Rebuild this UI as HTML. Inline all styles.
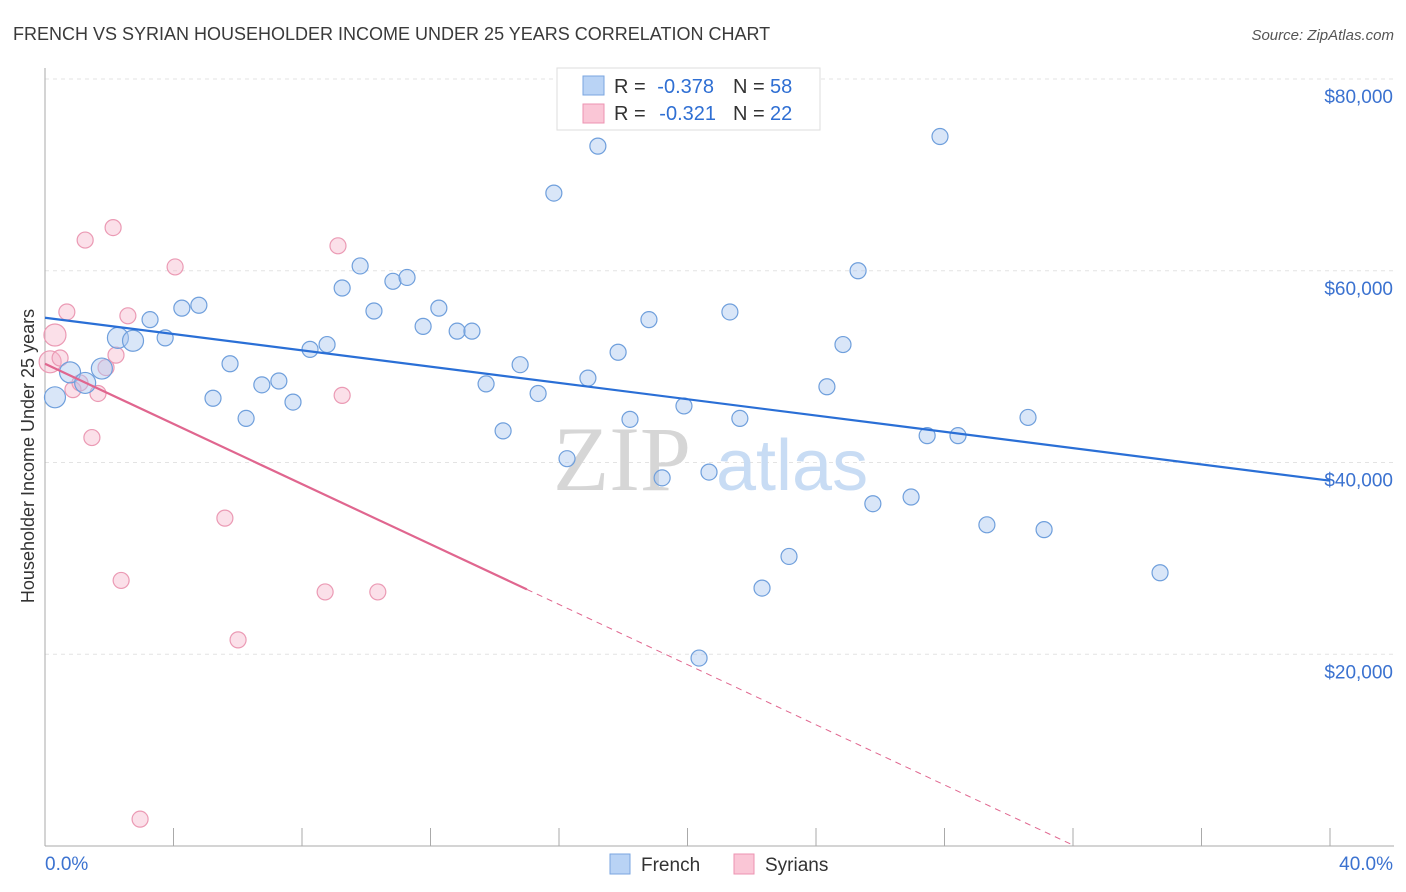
<!DOCTYPE html>
<html><head><meta charset="utf-8"><style>
body{margin:0;background:#fff;font-family:"Liberation Sans",sans-serif;}
svg{display:block}
</style></head><body>
<svg id="chart" width="1406" height="892" xmlns="http://www.w3.org/2000/svg" font-family="Liberation Sans, sans-serif">
<text x="13" y="40" font-size="18" fill="#3a3a3a">FRENCH VS SYRIAN HOUSEHOLDER INCOME UNDER 25 YEARS CORRELATION CHART</text>
<text x="1394" y="40" font-size="15" fill="#555" font-style="italic" text-anchor="end">Source: ZipAtlas.com</text>
<g id="grid"></g>
<g id="axes"></g>
<g><text x="553" y="490" font-size="92" font-family="Liberation Serif, serif" fill="#d6d6d6">ZIP</text><text x="716" y="490" font-size="72" fill="#c8dcf4">atlas</text></g>
<g id="marks"></g>
<text transform="translate(34,456) rotate(-90)" font-size="18" fill="#333" text-anchor="middle">Householder Income Under 25 years</text>
<g>
<rect x="557" y="68" width="263" height="62" fill="#fff" stroke="#ddd"/>
<rect x="583" y="76" width="21" height="19" fill="#b9d3f5" stroke="#7aa6e0"/>
<rect x="583" y="104" width="21" height="19" fill="#fac6d6" stroke="#ec93b1"/>
<text x="614" y="93" font-size="20" fill="#333">R =</text>
<text x="714" y="93" font-size="20" fill="#2f6fd3" text-anchor="end">-0.378</text>
<text x="733" y="93" font-size="20" fill="#333">N =</text>
<text x="770" y="93" font-size="20" fill="#2f6fd3">58</text>
<text x="614" y="120" font-size="20" fill="#333">R =</text>
<text x="716" y="120" font-size="20" fill="#2f6fd3" text-anchor="end">-0.321</text>
<text x="733" y="120" font-size="20" fill="#333">N =</text>
<text x="770" y="120" font-size="20" fill="#2f6fd3">22</text>
</g>
<g>
<rect x="610" y="854" width="20" height="20" fill="#b9d3f5" stroke="#7aa6e0"/>
<text x="641" y="871" font-size="19" fill="#333">French</text>
<rect x="734" y="854" width="20" height="20" fill="#fac6d6" stroke="#ec93b1"/>
<text x="765" y="871" font-size="19" fill="#333">Syrians</text>
</g>
</svg>
<script>
const yTicks=[20,40,60,80];
const yTickLabels=["$20,000","$40,000","$60,000","$80,000"];
const xTickLabels=["0.0%","40.0%"];
const frenchX=[0.31,0.78,1.25,1.77,2.27,2.74,3.27,3.74,4.26,4.79,5.23,5.76,6.26,6.75,7.28,7.72,8.25,8.78,9.25,9.81,10.24,10.83,11.27,11.77,12.26,12.83,13.29,13.73,14.26,14.79,15.35,15.84,16.25,16.90,17.21,17.84,18.21,18.80,19.21,19.89,20.36,20.67,21.32,21.63,22.32,23.16,24.34,24.84,25.31,25.77,26.96,27.46,27.86,28.42,29.32,30.60,31.10,34.71];
const frenchY=[46.8,49.4,48.3,49.8,53.0,52.7,54.9,53.0,56.1,56.4,46.7,50.3,44.6,48.1,48.5,46.3,51.8,52.3,58.2,60.5,55.8,58.9,59.3,54.2,56.1,53.7,53.7,48.2,43.3,50.2,47.2,68.1,40.4,48.8,73.0,51.5,44.5,54.9,38.4,45.9,19.6,39.0,55.7,44.6,26.9,30.2,47.9,52.3,60.0,35.7,36.4,42.8,74.0,42.8,33.5,44.7,33.0,28.5];
const syrX=[0.16,0.31,0.47,0.87,1.09,1.25,1.46,1.65,1.90,2.12,2.21,2.37,2.58,2.96,4.05,5.60,6.01,8.72,9.12,9.25,10.36,0.68];
const syrY=[50.5,53.3,50.9,47.6,48.3,63.2,42.6,47.2,49.9,64.5,51.2,27.7,55.3,2.8,60.4,34.2,21.5,26.5,62.6,47.0,26.5,55.7];
const frenchTrend=[55.1,38.1];
const syrTrend=[50.3,-1.569];

const NS="http://www.w3.org/2000/svg";
const X=p=>45+p*32.125, Y=v=>846-v*9.5875;
function mk(tag,attrs,parent){const e=document.createElementNS(NS,tag);for(const k in attrs)e.setAttribute(k,attrs[k]);parent.appendChild(e);return e;}
const grid=document.getElementById('grid'),axes=document.getElementById('axes'),marks=document.getElementById('marks');
yTicks.forEach((t,i)=>{
 const l=mk('line',{x1:45,x2:1394,y1:Y(t),y2:Y(t),stroke:'#e3e3e3','stroke-dasharray':'4,4'},grid);
 
 
 const tx=mk('text',{x:1393,y:Y(t)+24,'font-size':19,fill:'#3b72d0','text-anchor':'end'},axes);tx.textContent=yTickLabels[i];
 
 
});
const ax=mk('line',{x1:45,x2:1394,y1:846,y2:846,stroke:'#aaa'},axes);


const ay=mk('line',{x1:45,x2:45,y1:68,y2:846,stroke:'#aaa'},axes);


for(let i=0;i<=10;i++){const t=mk('line',{x1:X(i*4),x2:X(i*4),y1:828,y2:846,stroke:'#aaa'},axes);
 
 }
[0,40].forEach((p,i)=>{const t=mk('text',{x:i?1393:45,y:870,'font-size':19,fill:'#3b72d0','text-anchor':i?'end':'start'},axes);t.textContent=xTickLabels[i];
 
 });
syrX.forEach((x,i)=>{const c=mk('circle',{cx:X(x),cy:Y(syrY[i]),r:i<2?11:8,fill:'rgba(246,178,200,0.4)',stroke:'#eb9ab4','stroke-width':1.2},marks);
 
 });
frenchX.forEach((x,i)=>{const c=mk('circle',{cx:X(x),cy:Y(frenchY[i]),r:i<6?10.5:8,fill:'rgba(170,200,240,0.45)',stroke:'#6f9fdc','stroke-width':1.2},marks);
 
 });
const ft=mk('line',{x1:X(0),y1:Y(frenchTrend[0]),x2:X(40),y2:Y(frenchTrend[1]),stroke:'#2a6fd6','stroke-width':2.2},marks);


const sEnd=15,sZero=-syrTrend[0]/syrTrend[1];
const st=mk('line',{x1:X(0),y1:Y(syrTrend[0]),x2:X(sEnd),y2:Y(syrTrend[0]+syrTrend[1]*sEnd),stroke:'#e0668f','stroke-width':2.2},marks);


const sd=mk('line',{x1:X(sEnd),y1:Y(syrTrend[0]+syrTrend[1]*sEnd),x2:X(sZero),y2:Y(0),stroke:'#e0668f','stroke-width':1,'stroke-dasharray':'6,5'},marks);


</script>
</body></html>
